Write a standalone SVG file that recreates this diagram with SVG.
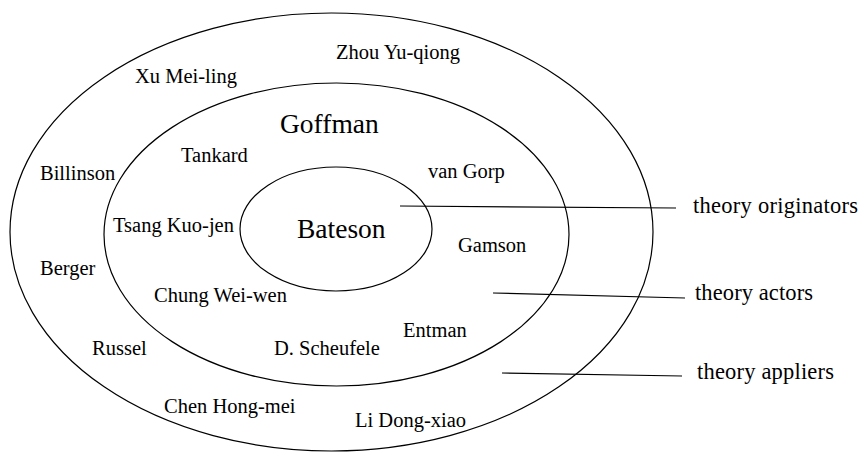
<svg xmlns="http://www.w3.org/2000/svg" width="859" height="452" viewBox="0 0 859 452">
  <style>
    .ring { fill: none; stroke: #000; stroke-width: 1.2; }
    .lead { fill: none; stroke: #000; stroke-width: 1.2; }
    text { fill: #000; }
    .name { font-size: 20.5px; }
    .core { font-size: 27.5px; }
    .tier { font-size: 22.5px; }
  </style>
  <rect width="859" height="452" fill="#fff"/>

  <g font-family="'Liberation Serif', 'DejaVu Serif', 'Times New Roman', Times, serif">
  <!-- outer ring: theory appliers -->
  <g id="appliers">
    <ellipse class="ring" cx="331.5" cy="232" rx="321.5" ry="219"/>
    <text class="name" x="336" y="59">Zhou Yu-qiong</text>
    <text class="name" x="135" y="83">Xu Mei-ling</text>
    <text class="name" x="40" y="180">Billinson</text>
    <text class="name" x="40" y="275">Berger</text>
    <text class="name" x="92" y="355">Russel</text>
    <text class="name" x="164" y="413">Chen Hong-mei</text>
    <text class="name" x="355" y="427">Li Dong-xiao</text>
  </g>

  <!-- middle ring: theory actors -->
  <g id="actors">
    <ellipse class="ring" cx="336.5" cy="234.5" rx="232.5" ry="151.5"/>
    <text class="core" x="280" y="133">Goffman</text>
    <text class="name" x="181" y="162">Tankard</text>
    <text class="name" x="428" y="178">van Gorp</text>
    <text class="name" x="113" y="232">Tsang Kuo-jen</text>
    <text class="name" x="458" y="252">Gamson</text>
    <text class="name" x="154" y="302">Chung Wei-wen</text>
    <text class="name" x="403" y="337">Entman</text>
    <text class="name" x="274" y="355">D. Scheufele</text>
  </g>

  <!-- inner ring: theory originators -->
  <g id="originators">
    <ellipse class="ring" cx="336" cy="229" rx="96" ry="62"/>
    <text class="core" x="297" y="238">Bateson</text>
  </g>

  <!-- leader lines to the tier captions -->
  <g id="connectors">
    <line class="lead" x1="400" y1="206" x2="676" y2="208"/>
    <line class="lead" x1="493" y1="293" x2="685" y2="298"/>
    <line class="lead" x1="502" y1="373" x2="682" y2="376"/>
  </g>

  <g id="captions">
    <text class="tier" x="693" y="213" textLength="165">theory originators</text>
    <text class="tier" x="695" y="300" textLength="118">theory actors</text>
    <text class="tier" x="697" y="379" textLength="137">theory appliers</text>
  </g>
  </g>
</svg>
